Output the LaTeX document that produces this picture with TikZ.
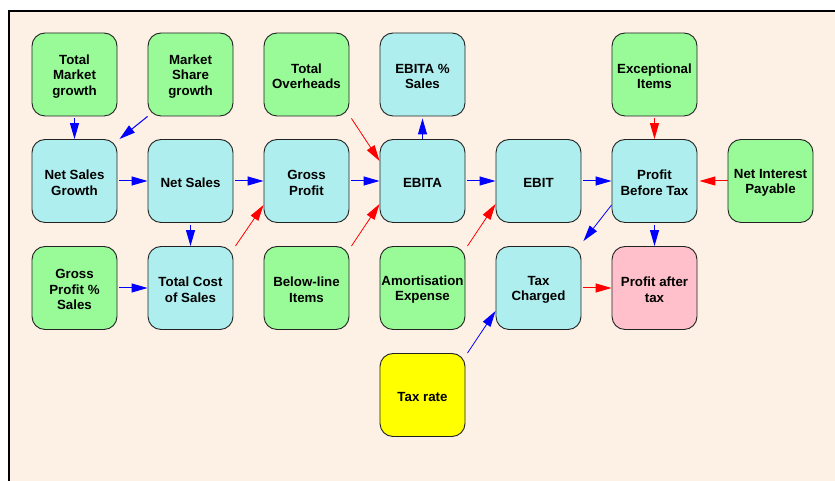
\documentclass[tikz,border=0pt]{standalone}
\usepackage{fontspec}
\setmainfont{Liberation Sans}
\usetikzlibrary{arrows.meta,calc}

\definecolor{paper}{HTML}{FDF0E4}
\definecolor{inputbox}{HTML}{98FB98}
\definecolor{calcbox}{HTML}{AFEEEE}
\definecolor{resultbox}{HTML}{FFC0CB}
\definecolor{ratebox}{HTML}{FFFF00}
\definecolor{edge}{HTML}{222222}

\tikzset{
  x=1pt, y=1pt,
  item/.style={rectangle, rounded corners=13pt, draw=edge, line width=0.9pt,
    minimum width=85pt, minimum height=83pt, inner sep=0pt,
    label={[align=center, inner sep=0pt, yshift=-1.8pt,
            font=\bfseries\fontsize{13.3}{15.5}\selectfont]center:#1}},
  given/.style={item={#1}, fill=inputbox},
  derived/.style={item={#1}, fill=calcbox},
  outcome/.style={item={#1}, fill=resultbox},
  rate/.style={item={#1}, fill=ratebox},
  plus/.style={draw=blue, line width=1pt, -{Triangle[length=16pt,width=9pt]}},
  minus/.style={draw=red, line width=0.8pt, -{Triangle[length=16pt,width=9pt]}},
}

\begin{document}
\begin{tikzpicture}
% page and frame
\useasboundingbox (0,0) rectangle (835,481);
\fill[white] (0,0) rectangle (835,481);
\fill[paper] (9.3,0) rectangle (835,469.5);
\draw[line width=2pt, line cap=rect] (9.3,0) -- (9.3,469.5) -- (835,469.5);

% row 1
\node[given={Total\\Market\\growth}]    (tmg)  at (74.5,406.5)  {};
\node[given={Market\\Share\\growth}]    (msg)  at (190.5,406.5) {};
\node[given={Total\\Overheads}]         (to)   at (306.5,406.5) {};
\node[derived={EBITA \%\\Sales}]        (ebps) at (422.5,406.5) {};
\node[given={Exceptional\\Items}]       (exc)  at (654.5,406.5) {};
% row 2
\node[derived={Net Sales\\Growth}]      (nsg)   at (74.5,300)  {};
\node[derived={Net Sales}]              (ns)    at (190.5,300) {};
\node[derived={Gross\\Profit}]          (gp)    at (306.5,300) {};
\node[derived={EBITA}]                  (ebita) at (422.5,300) {};
\node[derived={EBIT}]                   (ebit)  at (538.5,300) {};
\node[derived={Profit\\Before Tax}]     (pbt)   at (654.5,300) {};
\node[given={Net Interest\\Payable}]    (nip)   at (770.5,300) {};
% row 3
\node[given={Gross\\Profit \%\\Sales}]  (gps)  at (74.5,193)  {};
\node[derived={Total Cost\\of Sales}]   (tcos) at (190.5,193) {};
\node[given={Below-line\\Items}]        (bl)   at (306.5,193) {};
\node[given={Amortisation\\Expense}]    (ae)   at (422.5,193) {};
\node[derived={Tax\\Charged}]           (tc)   at (538.5,193) {};
\node[outcome={Profit after\\tax}]      (pat)  at (654.5,193) {};
% row 4
\node[rate={Tax rate}]                  (tr)   at (422.5,86)  {};

% positive influences
\draw[plus, shorten <=2pt] (tmg) -- (nsg);
\draw[plus] (msg.south west) -- ($(nsg.north east)+(2,0)$);
\draw[plus, shorten <=2pt] (nsg) -- (ns);
\draw[plus, shorten <=2pt] (ns) -- (tcos);
\draw[plus, shorten <=2pt] (ns) -- (gp);
\draw[plus, shorten <=2pt] (gps) -- (tcos);
\draw[plus, shorten <=2pt] (gp) -- (ebita);
\draw[plus, shorten >=2pt] (ebita) -- (ebps);
\draw[plus, shorten <=2pt] (ebita) -- (ebit);
\draw[plus, shorten <=2pt] (ebit) -- (pbt);
\draw[plus, line width=0.8pt] ($(pbt.west)+(0,-24)$) -- ($(tc.north east)+(2,5)$);
\draw[plus, shorten <=2pt] (pbt) -- (pat);
\draw[plus, line width=0.8pt] ($(tr.north east)+(2,0)$) -- ($(tc.west)+(0,-23)$);

% negative influences
\draw[minus] ($(to.south east)+(2,-2)$) -- ($(ebita.west)+(0,20)$);
\draw[minus] ($(bl.north east)+(2,0)$) -- ($(ebita.west)+(0,-23)$);
\draw[minus] ($(tcos.north east)+(2,0)$) -- ($(gp.west)+(0,-24)$);
\draw[minus] ($(ae.north east)+(2,0)$) -- ($(ebit.west)+(0,-23)$);
\draw[minus, line width=1pt, shorten <=2pt] (exc) -- (pbt);
\draw[minus, line width=1pt, shorten >=2pt] (nip) -- (pbt);
\draw[minus, line width=1pt, shorten <=2pt] (tc) -- (pat);
\end{tikzpicture}
\end{document}
